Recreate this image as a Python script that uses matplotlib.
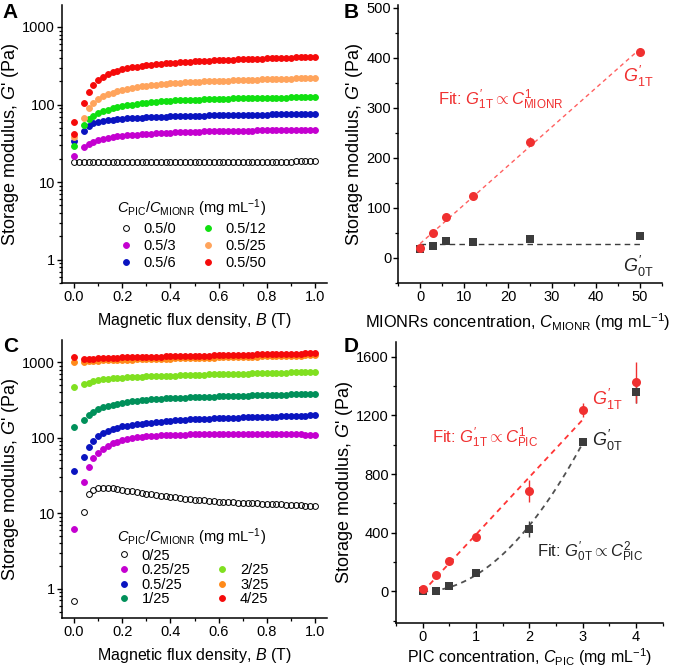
import numpy as np
import matplotlib
matplotlib.use('Agg')
import matplotlib.pyplot as plt
from matplotlib.lines import Line2D
from matplotlib.ticker import MultipleLocator, LogLocator, NullFormatter, FixedLocator, FormatStrFormatter

plt.rcParams['font.family'] = ['Liberation Sans', 'DejaVu Sans']
plt.rcParams['mathtext.fontset'] = 'custom'
plt.rcParams['mathtext.rm'] = 'Liberation Sans'
plt.rcParams['mathtext.it'] = 'Liberation Sans:italic'
plt.rcParams['mathtext.bf'] = 'Liberation Sans:bold'

# ── 数据 ──
# 扫场磁感应强度 (T)，0 T 的点单独列
B_sweep = [0.04, 0.06, 0.08, 0.10, 0.12, 0.14, 0.16, 0.18, 0.20,
           0.22, 0.24, 0.26, 0.28, 0.30, 0.32, 0.34, 0.36, 0.38, 0.40,
           0.42, 0.44, 0.46, 0.48, 0.50, 0.52, 0.54, 0.56, 0.58, 0.60,
           0.62, 0.64, 0.66, 0.68, 0.70, 0.72, 0.74, 0.76, 0.78, 0.80,
           0.82, 0.84, 0.86, 0.88, 0.90, 0.92, 0.94, 0.96, 0.98, 1.00]

# A: C_PIC = 0.5, 不同 MIONR 浓度
a_labels = ['0.5/0', '0.5/3', '0.5/6', '0.5/12', '0.5/25', '0.5/50']
a_colors = ['none', '#c400d0', '#0a14c0', '#10e010', '#ffa45c', '#f50a0a']
a_B0 = [[0.0, 0.02], [0.0], [0.0], [0.0], [0.0], [0.0, 0.0]]
a_G0 = [[18.2, 18.2], [21.5], [34], [29], [38], [60, 42]]
a_0_50 = [18.2, 18.2, 18.2, 18.2, 18.2, 18.2, 18.2, 18.2, 18.2,
          18.2, 18.2, 18.2, 18.2, 18.2, 18.2, 18.2, 18.2, 18.2, 18.2,
          18.2, 18.2, 18.2, 18.2, 18.2, 18.2, 18.2, 18.2, 18.2, 18.2,
          18.2, 18.2, 18.2, 18.2, 18.3, 18.3, 18.3, 18.3, 18.3, 18.3,
          18.3, 18.4, 18.4, 18.4, 18.4, 18.5, 18.5, 18.5, 18.6, 18.7]
a_3 = [28, 31, 33, 35, 36, 37, 38, 39, 39.5,
       40, 40.5, 41, 41.5, 42, 42.3, 42.6, 43, 43.3, 43.5,
       43.7, 44, 44.2, 44.4, 44.6, 44.8, 45, 45.1, 45.2, 45.4,
       45.5, 45.6, 45.7, 45.8, 46, 46.1, 46.2, 46.3, 46.4, 46.5,
       46.6, 46.7, 46.8, 46.9, 47, 47, 47.1, 47.2, 47.3, 47.4]
a_6 = [46, 53, 57, 60, 62, 63, 64, 65, 66,
       67, 67, 68, 68, 69, 69, 70, 70, 70, 71,
       71, 71, 72, 72, 72, 72, 72, 73, 73, 73,
       73, 73, 73, 74, 74, 74, 74, 74, 74, 74,
       75, 75, 75, 75, 75, 75, 75, 76, 76, 76]
a_12 = [55, 65, 72, 77, 82, 86, 89, 92, 95,
        98, 100, 102, 104, 106, 107, 109, 110, 111, 112,
        113, 114, 114, 115, 116, 116, 117, 117, 118, 118,
        119, 119, 120, 120, 121, 121, 121, 122, 122, 122,
        123, 123, 123, 123, 124, 124, 124, 124, 125, 125]
a_25 = [67, 90, 106, 117, 127, 135, 142, 149, 155,
        160, 164, 168, 171, 174, 177, 180, 183, 185, 188,
        190, 192, 194, 195, 197, 198, 199, 200, 201, 202,
        203, 204, 205, 206, 207, 208, 209, 210, 211, 212,
        213, 214, 215, 215, 216, 217, 218, 218, 219, 220]
a_50 = [104, 147, 179, 205, 226, 244, 259, 272, 284,
        293, 301, 308, 315, 321, 326, 331, 336, 340, 344,
        348, 351, 354, 357, 360, 363, 366, 368, 371, 373,
        375, 377, 379, 381, 383, 385, 387, 389, 391, 393,
        395, 397, 399, 401, 403, 405, 407, 409, 411, 413]
a_series = [a_0_50, a_3, a_6, a_12, a_25, a_50]

# B: 0 T 与 1 T 下的储能模量 vs MIONR 浓度
c_mionr = [0, 3, 6, 12, 25, 50]
b_g1t = [19, 50, 81, 124, 232, 412]
b_g1t_err = [3, 4, 4, 4, 9, 8]
b_g0t = [18, 23, 34, 32, 38, 44]
b_g0t_err = [2, 2, 3, 2, 2, 2]
b_g0t_level = 27

# C: C_MIONR = 25, 不同 PIC 浓度
c_labels = ['0/25', '0.25/25', '0.5/25', '1/25', '2/25', '3/25', '4/25']
c_colors = ['none', '#c400d0', '#0a14c0', '#00905a', '#80e020', '#ff8a1a', '#f50a0a']
c_G0 = [0.68, 6.2, 36.5, 138, 467, 1000, 1165]
c_0_25 = [10.3, 18.1, 20.5, 21.5, 21.8, 21.7, 21.4, 20.9, 20.4,
          20.0, 19.5, 19.0, 18.6, 18.1, 17.8, 17.4, 17.1, 16.8, 16.5,
          16.2, 15.9, 15.6, 15.4, 15.2, 15.0, 14.8, 14.6, 14.4, 14.3,
          14.1, 14.0, 13.9, 13.8, 13.7, 13.6, 13.5, 13.5, 13.4, 13.4,
          13.3, 13.2, 13.1, 13.0, 12.9, 12.8, 12.7, 12.6, 12.5, 12.3]
c_025 = [25.6, 41.6, 53.7, 62.5, 71, 78, 84, 89, 93,
         96, 99, 101, 103, 104.5, 106, 107, 108, 108.5, 109,
         109.5, 110, 110, 110.5, 110.5, 111, 111, 111, 111, 111,
         111, 111, 111, 111, 111, 111, 111, 111, 111, 111,
         111, 111, 111, 110.5, 110.5, 110.5, 110.5, 110, 110, 110]
c_05 = [55, 75, 91, 104, 116, 124, 131, 136, 141,
        144, 147, 150, 153, 156, 159, 162, 164, 166, 168,
        170, 172, 174, 175, 176, 177, 178, 179, 180, 181,
        182, 183, 184, 185, 186, 187, 188, 188, 189, 189,
        190, 191, 192, 193, 194, 195, 196, 197, 198, 199]
c_1 = [173, 201, 222, 240, 254, 266, 275, 284, 291,
       297, 302, 307, 312, 317, 321, 325, 328, 331, 334,
       336, 338, 340, 342, 344, 346, 348, 350, 351, 352,
       354, 356, 358, 359, 361, 362, 363, 364, 365, 366,
       368, 370, 371, 373, 375, 376, 377, 378, 380, 381]
c_2 = [516, 535, 560, 580, 593, 603, 612, 620, 627,
       632, 637, 641, 645, 649, 652, 655, 658, 661, 664,
       667, 670, 674, 677, 680, 683, 686, 689, 692, 695,
       698, 700, 702, 705, 707, 709, 711, 713, 715, 717,
       720, 723, 726, 729, 732, 735, 737, 740, 742, 745]
c_3 = [1015, 1030, 1040, 1050, 1056, 1062, 1067, 1072, 1077,
       1081, 1085, 1089, 1093, 1097, 1101, 1105, 1109, 1113, 1117,
       1121, 1125, 1129, 1133, 1137, 1141, 1145, 1149, 1153, 1157,
       1161, 1165, 1169, 1173, 1177, 1181, 1185, 1189, 1193, 1197,
       1201, 1205, 1209, 1213, 1217, 1221, 1225, 1228, 1231, 1234]
c_4 = [1090, 1105, 1115, 1125, 1132, 1138, 1144, 1150, 1155,
       1159, 1163, 1167, 1171, 1175, 1179, 1183, 1187, 1191, 1195,
       1199, 1203, 1207, 1211, 1215, 1219, 1223, 1227, 1231, 1235,
       1239, 1243, 1247, 1251, 1255, 1259, 1263, 1267, 1271, 1275,
       1279, 1283, 1287, 1291, 1295, 1299, 1303, 1306, 1309, 1312]
c_series = [c_0_25, c_025, c_05, c_1, c_2, c_3, c_4]

# D: 0 T 与 1 T 下的储能模量 vs PIC 浓度
c_pic = [0, 0.25, 0.5, 1, 2, 3, 4]
d_g1t = [16, 109, 209, 368, 685, 1237, 1425]
d_g1t_err = [10, 12, 15, 15, 74, 50, 140]
d_g0t = [0, 5, 39, 123, 424, 1021, 1362]
d_g0t_err = [5, 5, 6, 10, 53, 10, 75]

RED = '#f03030'
GREY = '#3c3c3c'
YLAB = "Storage modulus, $G$' (Pa)"
LEG_TITLE = '$C_{\\rm PIC}$/$C_{\\rm MIONR}$ (mg mL$^{-1}$)'
YLAB_SIZE = 13


def style_axes(ax):
    # 只留左、下两条轴
    for s in ['top', 'right']:
        ax.spines[s].set_visible(False)
    for s in ['left', 'bottom']:
        ax.spines[s].set_linewidth(1.1)
    ax.tick_params(which='major', direction='out', length=3.5, width=1.0, labelsize=10.5, pad=1.5)
    ax.tick_params(which='minor', direction='out', length=2.2, width=0.9)


def log_axis(ax, ylim):
    ax.set_yscale('log')
    ax.set_xlim(-0.05, 1.05)
    ax.set_ylim(*ylim)
    ax.xaxis.set_major_locator(MultipleLocator(0.2))
    ax.xaxis.set_minor_locator(MultipleLocator(0.1))
    ax.xaxis.set_major_formatter(FormatStrFormatter('%.1f'))
    ax.yaxis.set_major_locator(FixedLocator([1, 10, 100, 1000]))
    ax.yaxis.set_major_formatter(FormatStrFormatter('%g'))
    ax.yaxis.set_minor_locator(LogLocator(base=10, subs=np.arange(2, 10)))
    ax.yaxis.set_minor_formatter(NullFormatter())
    style_axes(ax)
    ax.set_xlabel('Magnetic flux density, $B$ (T)', fontsize=11.5, labelpad=5)
    ax.set_ylabel(YLAB, fontsize=YLAB_SIZE, labelpad=1)


fig = plt.figure(figsize=(6.77, 6.69), dpi=100)

# ── A ──
axA = fig.add_axes([0.0916, 0.577, 0.3915, 0.4155])
for i in range(len(a_labels)):
    face = a_colors[i]
    edge = 'black' if face == 'none' else face
    xs = a_B0[i] + B_sweep
    ys = a_G0[i] + a_series[i]
    axA.plot(xs, ys, 'o', ms=4.2, mfc=face, mec=edge, mew=0.7, ls='none', label=a_labels[i])
log_axis(axA, (0.5, 1920))
axA.legend(ncol=2, loc='lower center', bbox_to_anchor=(0.49, 0.0), frameon=False,
           fontsize=10.5, title=LEG_TITLE, title_fontsize=10.5, handletextpad=0.6,
           columnspacing=1.6, labelspacing=0.2, handlelength=1.2)

# ── B ──
axB = fig.add_axes([0.588, 0.577, 0.390, 0.4155])
axB.plot([0, 50], [b_g0t_level, b_g0t_level], ls=(0, (4, 3)), color=GREY, lw=1.0)
fitB = np.polyfit(c_mionr, b_g1t, 1)
xB = np.array([0, 50])
axB.plot(xB, np.polyval(fitB, xB), ls=(0, (3, 2.5)), color='#ff6060', lw=1.0)
axB.errorbar(c_mionr, b_g0t, yerr=b_g0t_err, fmt='s', ms=5.5, color=GREY, ecolor=GREY,
             capsize=2, elinewidth=0.8, mew=0)
axB.errorbar(c_mionr, b_g1t, yerr=b_g1t_err, fmt='o', ms=6.5, color=RED, ecolor=RED,
             capsize=2, elinewidth=0.8, mew=0)
axB.set_xlim(-5, 55)
axB.set_ylim(-50, 505)
axB.xaxis.set_major_locator(MultipleLocator(10))
axB.xaxis.set_minor_locator(MultipleLocator(5))
axB.yaxis.set_major_locator(MultipleLocator(100))
axB.yaxis.set_minor_locator(MultipleLocator(50))
style_axes(axB)
axB.set_xlabel('MIONRs concentration, $C_{\\rm MIONR}$ (mg mL$^{-1}$)', fontsize=11.8,
               labelpad=5, x=0.455)
axB.set_ylabel(YLAB, fontsize=YLAB_SIZE, labelpad=1)
axB.text(4, 315, 'Fit: $G^{\\prime}_{\\rm 1T}\\propto C^{1}_{\\rm MIONR}$', color=RED,
         fontsize=12, ha='left', va='center')
axB.text(46, 362, '$G^{\\prime}_{\\rm 1T}$', color=RED, fontsize=13, ha='left', va='center')
axB.text(46, -17, '$G^{\\prime}_{\\rm 0T}$', color='#222222', fontsize=13, ha='left', va='center')

# ── C ──
axC = fig.add_axes([0.0916, 0.0762, 0.3915, 0.4156])
for i in range(len(c_labels)):
    face = c_colors[i]
    edge = 'black' if face == 'none' else face
    xs = [0.0] + B_sweep
    ys = [c_G0[i]] + c_series[i]
    axC.plot(xs, ys, 'o', ms=4.2, mfc=face, mec=edge, mew=0.7, ls='none', label=c_labels[i])
log_axis(axC, (0.41, 1970))
hC, lC = axC.get_legend_handles_labels()
blank = Line2D([], [], ls='none', marker=None)
hC = hC[:4] + [blank] + hC[4:]
lC = lC[:4] + [''] + lC[4:]
axC.legend(hC, lC, ncol=2, loc='lower center', bbox_to_anchor=(0.49, -0.005), frameon=False,
           fontsize=10.5, title=LEG_TITLE, title_fontsize=10.5, handletextpad=0.6,
           columnspacing=1.6, labelspacing=0.04, handlelength=1.2)

# ── D ──
axD = fig.add_axes([0.585, 0.0688, 0.394, 0.42])
fit1 = np.polyfit(c_pic[:6], d_g1t[:6], 1)
x1 = np.array([0, 3])
axD.plot(x1, np.polyval(fit1, x1), ls=(0, (3, 2.5)), color='#ff3535', lw=1.3)
xq = np.array(c_pic[:6], dtype=float)
k2 = np.sum(np.array(d_g0t[:6]) * xq**2) / np.sum(xq**4)
x2 = np.linspace(0, 3, 60)
axD.plot(x2, k2 * x2**2, ls=(0, (3, 2.5)), color='#505050', lw=1.3)
axD.errorbar(c_pic, d_g0t, yerr=d_g0t_err, fmt='s', ms=5.5, color=GREY, ecolor=GREY,
             capsize=3, elinewidth=1.0, mew=0)
axD.errorbar(c_pic, d_g1t, yerr=d_g1t_err, fmt='o', ms=6.5, color=RED, ecolor=RED,
             capsize=3, elinewidth=1.0, mew=0)
axD.set_xlim(-0.5, 4.5)
axD.set_ylim(-215, 1700)
axD.xaxis.set_major_locator(MultipleLocator(1))
axD.xaxis.set_minor_locator(MultipleLocator(0.5))
axD.yaxis.set_major_locator(MultipleLocator(400))
axD.yaxis.set_minor_locator(MultipleLocator(200))
style_axes(axD)
axD.set_xlabel('PIC concentration, $C_{\\rm PIC}$ (mg mL$^{-1}$)', fontsize=11.5, labelpad=2)
axD.set_ylabel(YLAB, fontsize=YLAB_SIZE, labelpad=1)
axD.text(0.17, 1044, 'Fit: $G^{\\prime}_{\\rm 1T}\\propto C^{1}_{\\rm PIC}$', color=RED,
         fontsize=12, ha='left', va='center')
axD.text(3.17, 1305, '$G^{\\prime}_{\\rm 1T}$', color=RED, fontsize=13, ha='left', va='center')
axD.text(3.17, 1030, '$G^{\\prime}_{\\rm 0T}$', color='#222222', fontsize=13, ha='left', va='center')
axD.text(2.14, 272, 'Fit: $G^{\\prime}_{\\rm 0T}\\propto C^{2}_{\\rm PIC}$', color='#222222',
         fontsize=12, ha='left', va='center')

# 面板字母
for lab, x, y in [('A', 0.004, 0.995), ('B', 0.507, 0.995), ('C', 0.004, 0.497), ('D', 0.507, 0.497)]:
    fig.text(x, y, lab, fontsize=15, fontweight='bold', ha='left', va='top')

fig.savefig('out.png', dpi=100)
